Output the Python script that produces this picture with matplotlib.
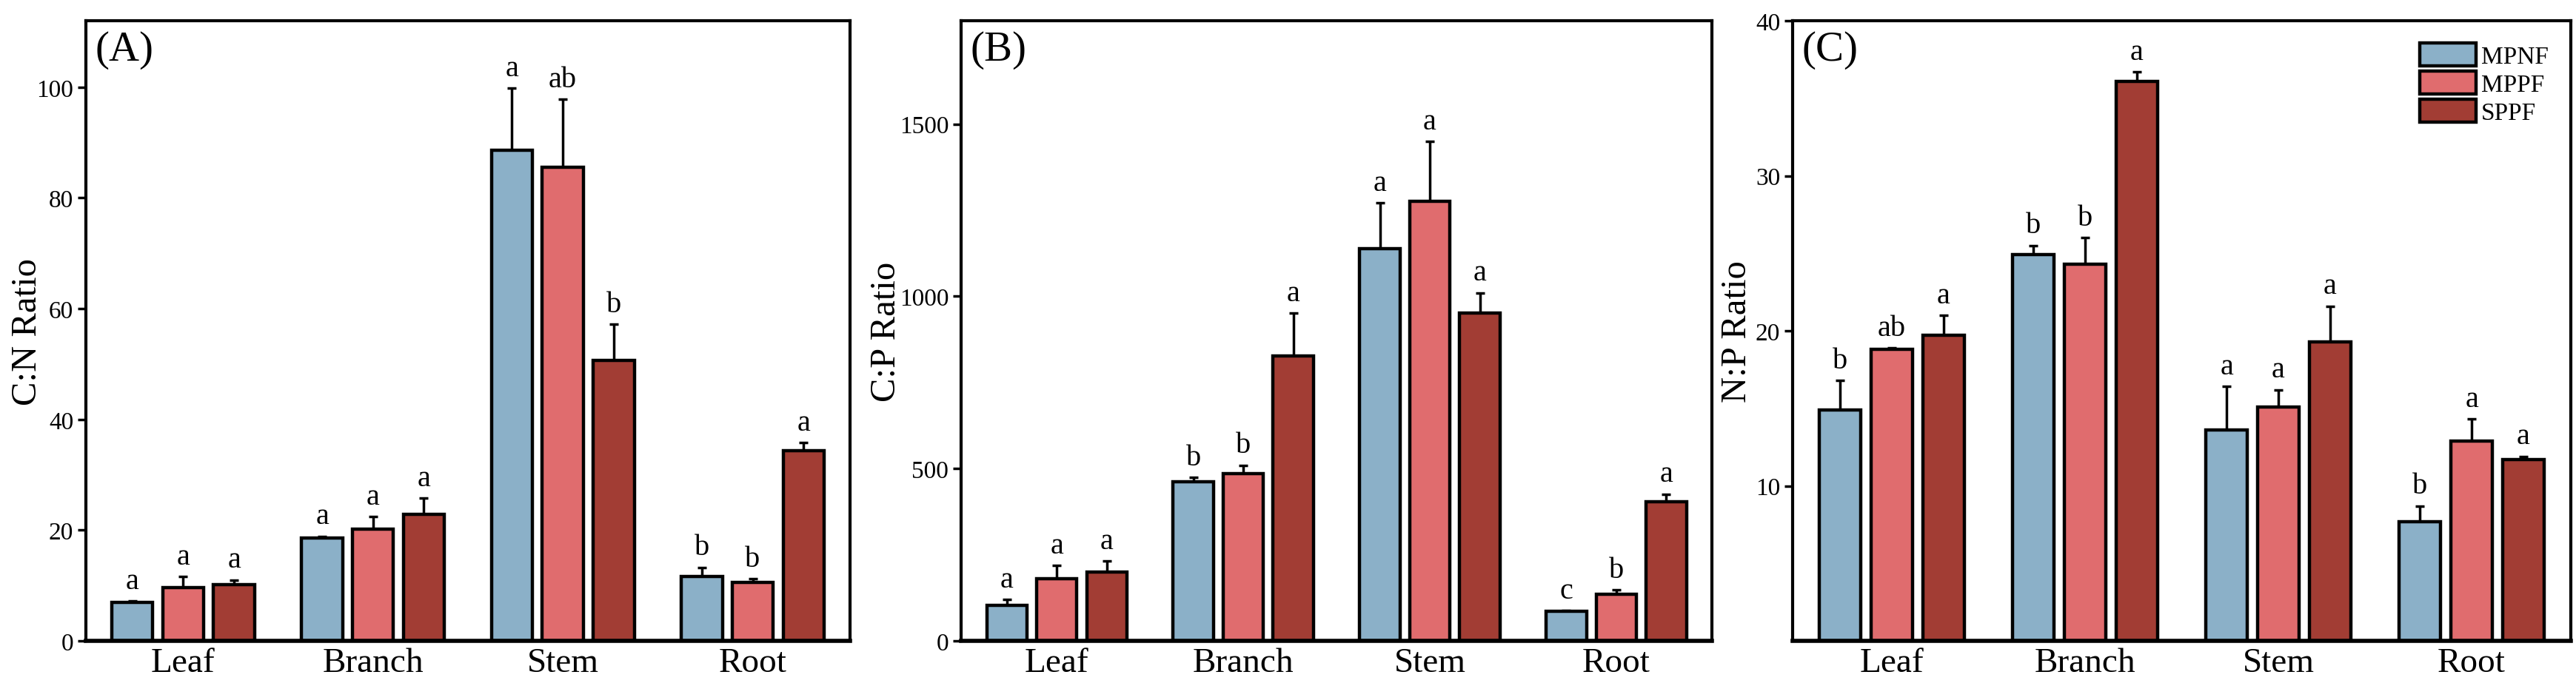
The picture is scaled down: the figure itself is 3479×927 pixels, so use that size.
import numpy as np
import matplotlib
matplotlib.use('Agg')
import matplotlib.pyplot as plt

plt.rcParams['font.family'] = ['Liberation Serif', 'DejaVu Serif']

organs = ['Leaf', 'Branch', 'Stem', 'Root']
sites = ['MPNF', 'MPPF', 'SPPF']
colors = ['#8BB0C8', '#E06C6E', '#A23D34']

# C:N ratio
cn_mean = {'MPNF': [6.9, 18.6, 88.6, 11.6],
           'MPPF': [9.6, 20.2, 85.6, 10.6],
           'SPPF': [10.1, 22.8, 50.6, 34.4]}
cn_se = {'MPNF': [0.3, 0.3, 11.2, 1.7],
         'MPPF': [2.0, 2.2, 12.2, 0.6],
         'SPPF': [0.9, 3.0, 6.6, 1.4]}
cn_let = {'MPNF': ['a', 'a', 'a', 'b'],
          'MPPF': ['a', 'a', 'ab', 'b'],
          'SPPF': ['a', 'a', 'b', 'a']}

# C:P ratio
cp_mean = {'MPNF': [103, 461, 1139, 86],
           'MPPF': [181, 486, 1275, 135],
           'SPPF': [200, 826, 952, 404]}
cp_se = {'MPNF': [17, 13, 132, 2],
         'MPPF': [38, 24, 174, 13],
         'SPPF': [32, 125, 58, 22]}
cp_let = {'MPNF': ['a', 'b', 'a', 'c'],
          'MPPF': ['a', 'b', 'a', 'b'],
          'SPPF': ['a', 'a', 'a', 'a']}

# N:P ratio
np_mean = {'MPNF': [14.9, 24.9, 13.6, 7.7],
           'MPPF': [18.8, 24.3, 15.1, 12.9],
           'SPPF': [19.7, 36.1, 19.3, 11.7]}
np_se = {'MPNF': [1.9, 0.6, 2.8, 1.0],
         'MPPF': [0.1, 1.7, 1.1, 1.4],
         'SPPF': [1.3, 0.6, 2.3, 0.2]}
np_let = {'MPNF': ['b', 'b', 'a', 'b'],
          'MPPF': ['ab', 'b', 'a', 'a'],
          'SPPF': ['a', 'a', 'a', 'a']}

fig = plt.figure(figsize=(34.8, 9.28), dpi=100)
boxes = [[0.0333, 0.0657, 0.2966, 0.903],
         [0.3730, 0.0657, 0.2914, 0.903],
         [0.6957, 0.0657, 0.3020, 0.903]]
label_x = [-0.055, -0.078, -0.050]

panels = [('(A)', 'C:N Ratio', cn_mean, cn_se, cn_let, (0, 112), [0, 20, 40, 60, 80, 100]),
          ('(B)', 'C:P Ratio', cp_mean, cp_se, cp_let, (0, 1800), [0, 500, 1000, 1500]),
          ('(C)', 'N:P Ratio', np_mean, np_se, np_let, (0, 40), [10, 20, 30, 40])]

x = np.arange(len(organs))
w = 0.216
step = 0.268

for box, lx, (tag, ylab, mean, se, let, ylim, yt) in zip(boxes, label_x, panels):
    ax = fig.add_axes(box)
    for i, s in enumerate(sites):
        xs = x + (i - 1) * step
        ax.bar(xs, mean[s], w, color=colors[i], edgecolor='black', linewidth=3.2,
               label=s, zorder=2)
        ax.errorbar(xs, mean[s], yerr=[np.zeros(4), se[s]], fmt='none',
                    ecolor='black', elinewidth=2.5, capsize=4.5, capthick=2.5, zorder=1)
        for xx, m, e, l in zip(xs, mean[s], se[s], let[s]):
            ax.annotate(l, (xx, m + e), xytext=(0, 6), textcoords='offset points',
                        ha='center', va='bottom', fontsize=29)
    ax.set_xlim(-0.513, 3.513)
    ax.set_ylim(*ylim)
    ax.set_yticks(yt)
    ax.set_xticks(x)
    ax.set_xticklabels(organs, fontsize=34)
    ax.tick_params(axis='x', length=0, pad=6)
    ax.tick_params(axis='y', labelsize=24, width=2.5, length=8, direction='out', pad=4)
    ax.set_ylabel(ylab, fontsize=35)
    ax.yaxis.set_label_coords(lx, 0.5)
    for sp in ax.spines.values():
        sp.set_linewidth(3)
    ax.spines['bottom'].set_linewidth(4)
    ax.text(0.012, 0.985, tag, transform=ax.transAxes, ha='left', va='top', fontsize=41)
    if tag == '(C)':
        leg = ax.legend(loc='upper right', frameon=False, fontsize=24,
                        handlelength=2.3, handleheight=1.05, labelspacing=0.12,
                        handletextpad=0.2, borderaxespad=0.5)

fig.savefig('out.png', dpi=100)
